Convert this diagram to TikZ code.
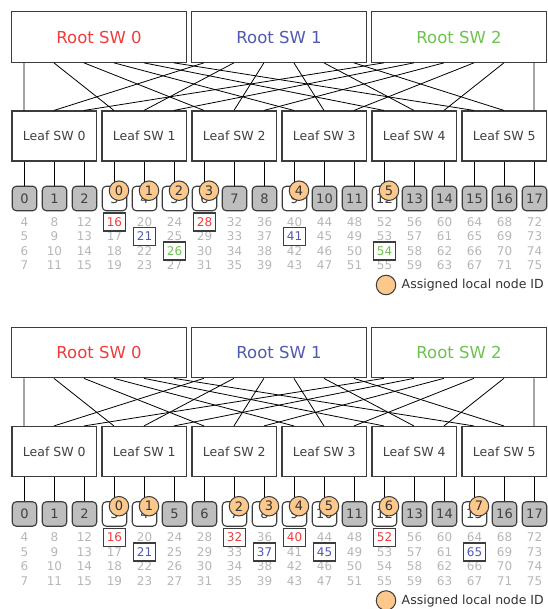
\documentclass[tikz,border=0pt]{standalone}
\usepackage{fontspec}
\setmainfont{DejaVu Sans}
\definecolor{rootred}{RGB}{240,60,60}
\definecolor{rootblue}{RGB}{80,90,175}
\definecolor{rootgreen}{RGB}{110,195,80}
\definecolor{gridgray}{RGB}{182,182,182}
\definecolor{nodefill}{RGB}{190,190,190}
\definecolor{edgegray}{RGB}{60,60,60}
\definecolor{idfill}{RGB}{252,200,140}
\tikzset{
 rootbox/.style={draw=edgegray, line width=1.2pt, fill=white, minimum width=175pt, minimum height=50.5pt, inner sep=0pt, font=\fontsize{16.5}{18}\selectfont},
 leafbox/.style={draw=edgegray, line width=1.1pt, fill=white, minimum width=84.5pt, minimum height=50pt, inner sep=0pt, text=black!75, font=\fontsize{12.5}{14}\selectfont},
 hostbox/.style={draw=edgegray, line width=1.1pt, rounded corners=4pt, fill=nodefill, minimum width=24.5pt, minimum height=24.5pt, inner sep=0pt, text=black!75, font=\fontsize{13}{14}\selectfont},
 freebox/.style={hostbox, fill=white},
 idcirc/.style={circle, draw=edgegray, line width=1pt, fill=idfill, minimum size=19.5pt, inner sep=0pt, text=black!80, font=\fontsize{13}{14}\selectfont},
 gridnum/.style={text=gridgray, font=\fontsize{12}{13}\selectfont, inner sep=0pt},
 hilite/.style={draw=edgegray, line width=1.2pt, fill=white, minimum width=22pt, minimum height=18pt, inner sep=0pt, font=\fontsize{12}{13}\selectfont},
 link/.style={draw=black, line width=0.8pt},
 legtext/.style={anchor=west, inner sep=0pt, text=black!80, font=\fontsize{12.5}{14}\selectfont},
}
\newcommand\drawhalf[4]{%
 \foreach \r/\nm/\col in {0/Root SW 0/rootred, 1/Root SW 1/rootblue, 2/Root SW 2/rootgreen}
   \node[rootbox, text=\col] (#1root\r) at ({99+180*\r},37) {\nm};
 \foreach \l in {0,...,5}
   \node[leafbox] (#1leaf\l) at ({54.25+90*\l},136) {Leaf SW \l};
 \foreach \r in {0,1,2}
   \foreach \k in {0,...,5}
     \draw[link] ([xshift={13pt+30pt*\k}]#1root\r.south west) -- ([xshift={12.5pt+30pt*\r}]#1leaf\k.north west);
 \foreach \i in {#2}
   \node[hostbox] (#1h\i) at ({24.5+30*\i},198.5) {\i};
 \foreach \i/\c in {#3}
   \node[freebox] (#1h\i) at ({24.5+30*\i},198.5) {\i};
 \foreach \l in {0,...,5}
   \foreach \s in {0,1,2} {
     \pgfmathtruncatemacro\hi{3*\l+\s}
     \draw[link] (#1h\hi.north |- #1leaf\l.south) -- (#1h\hi.north);
   }
 \foreach \i in {0,...,17}
   \foreach \j in {0,...,3} {
     \pgfmathtruncatemacro\v{4*(\i+1)+\j}
     \node[gridnum] (#1n\i-\j) at ({24.5+30*\i},{222+14.5*\j}) {\v};
   }
 \foreach \i/\c in {#3}
   \node[idcirc] (#1c\i) at ([xshift=4.5pt,yshift=-5pt]#1h\i.north) {\c};
 \foreach \i/\j/\col in {#4} {
   \pgfmathtruncatemacro\v{4*(\i+1)+\j}
   \node[hilite, text=\col] (#1hl\i) at (#1n\i-\j) {\v};
 }
 \node[idcirc] (#1legc) at (386,285) {};
 \node[legtext] (#1legt) at (401.5,285.5) {Assigned local node ID};
}
\begin{document}
\begin{tikzpicture}[x=1pt,y=-1pt]
\useasboundingbox (0,0) rectangle (547,609);
\drawhalf{T}{0,1,2,7,8,10,11,13,14,15,16,17}{3/0,4/1,5/2,6/3,9/4,12/5}{3/0/rootred,4/1/rootblue,5/2/rootgreen,6/0/rootred,9/1/rootblue,12/2/rootgreen}
\begin{scope}[yshift=-315.5pt]
\drawhalf{B}{0,1,2,5,6,11,13,14,16,17}{3/0,4/1,7/2,8/3,9/4,10/5,12/6,15/7}{3/0/rootred,4/1/rootblue,7/0/rootred,8/1/rootblue,9/0/rootred,10/1/rootblue,12/0/rootred,15/1/rootblue}
\end{scope}
\end{tikzpicture}
\end{document}
